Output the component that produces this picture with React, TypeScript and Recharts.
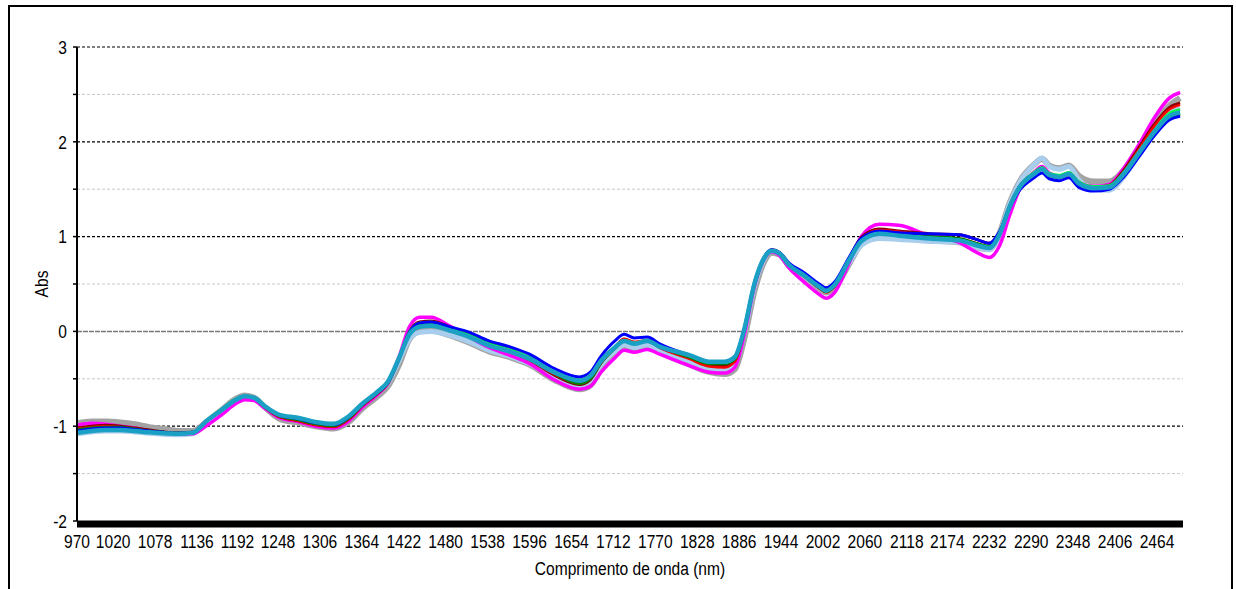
import React from 'react';
import { LineChart, Line, XAxis, YAxis, ReferenceLine } from 'recharts';

const wavelengths = [970, 990, 1010, 1030, 1050, 1070, 1090, 1110, 1130, 1150, 1170, 1190, 1202, 1215, 1230, 1250, 1275, 1300, 1325, 1345, 1365, 1385, 1400, 1415, 1430, 1444, 1460, 1485, 1513, 1540, 1568, 1596, 1630, 1665, 1680, 1695, 1714, 1727, 1741, 1759, 1776, 1817, 1845, 1866, 1880, 1893, 1907, 1921, 1931, 1942, 1955, 1976, 1997, 2006, 2018, 2038, 2055, 2080, 2107, 2149, 2190, 2218, 2232, 2246, 2260, 2274, 2294, 2305, 2315, 2329, 2342, 2356, 2377, 2398, 2418, 2439, 2460, 2481, 2496];

const sGray = [-0.97, -0.95, -0.95, -0.96, -0.98, -1.01, -1.03, -1.05, -1.05, -0.95, -0.83, -0.71, -0.675, -0.70, -0.80, -0.92, -0.96, -1.00, -1.025, -0.96, -0.81, -0.69, -0.58, -0.36, -0.08, 0.00, 0.01, -0.04, -0.12, -0.21, -0.27, -0.35, -0.51, -0.61, -0.57, -0.40, -0.24, -0.17, -0.20, -0.16, -0.22, -0.35, -0.43, -0.45, -0.40, -0.08, 0.42, 0.74, 0.83, 0.81, 0.69, 0.57, 0.45, 0.41, 0.46, 0.71, 0.92, 1.01, 0.99, 0.96, 0.94, 0.88, 0.87, 1.03, 1.35, 1.58, 1.76, 1.82, 1.75, 1.72, 1.75, 1.64, 1.58, 1.58, 1.70, 1.93, 2.18, 2.38, 2.46];
const sLightBlue = [-1.08, -1.06, -1.05, -1.05, -1.06, -1.075, -1.085, -1.09, -1.08, -0.95, -0.84, -0.73, -0.69, -0.71, -0.80, -0.90, -0.93, -0.975, -0.995, -0.92, -0.78, -0.66, -0.55, -0.32, -0.08, -0.01, 0.00, -0.04, -0.11, -0.20, -0.26, -0.34, -0.48, -0.57, -0.52, -0.35, -0.21, -0.14, -0.17, -0.14, -0.20, -0.32, -0.40, -0.40, -0.34, -0.02, 0.47, 0.77, 0.85, 0.82, 0.70, 0.58, 0.46, 0.42, 0.48, 0.72, 0.91, 0.98, 0.97, 0.95, 0.94, 0.88, 0.86, 1.02, 1.34, 1.57, 1.76, 1.83, 1.74, 1.71, 1.74, 1.60, 1.50, 1.49, 1.63, 1.87, 2.12, 2.30, 2.35];
const sMagenta = [-0.99, -0.97, -0.98, -1.00, -1.02, -1.05, -1.07, -1.08, -1.08, -0.99, -0.88, -0.76, -0.72, -0.73, -0.81, -0.91, -0.95, -1.00, -1.02, -0.95, -0.80, -0.67, -0.55, -0.28, 0.05, 0.15, 0.15, 0.06, -0.06, -0.17, -0.25, -0.34, -0.51, -0.61, -0.58, -0.43, -0.28, -0.20, -0.22, -0.19, -0.24, -0.36, -0.43, -0.44, -0.38, -0.04, 0.47, 0.77, 0.84, 0.80, 0.67, 0.52, 0.39, 0.35, 0.41, 0.72, 1.00, 1.13, 1.12, 1.01, 0.94, 0.82, 0.78, 0.90, 1.22, 1.50, 1.68, 1.74, 1.67, 1.64, 1.67, 1.57, 1.53, 1.55, 1.72, 1.97, 2.25, 2.46, 2.52];
const sDarkRed = [-1.02, -1.00, -0.99, -1.00, -1.02, -1.04, -1.06, -1.07, -1.065, -0.94, -0.83, -0.72, -0.685, -0.70, -0.80, -0.90, -0.94, -0.985, -1.005, -0.93, -0.78, -0.66, -0.55, -0.30, 0.00, 0.10, 0.11, 0.05, -0.04, -0.14, -0.21, -0.30, -0.46, -0.56, -0.51, -0.33, -0.17, -0.08, -0.12, -0.10, -0.17, -0.28, -0.36, -0.37, -0.31, 0.01, 0.49, 0.78, 0.86, 0.83, 0.71, 0.60, 0.48, 0.44, 0.50, 0.77, 0.99, 1.08, 1.06, 1.03, 1.02, 0.96, 0.93, 1.04, 1.32, 1.53, 1.67, 1.72, 1.66, 1.63, 1.66, 1.57, 1.52, 1.54, 1.70, 1.94, 2.18, 2.36, 2.41];
const sRed = [-1.03, -1.01, -1.00, -1.01, -1.03, -1.05, -1.065, -1.075, -1.065, -0.94, -0.83, -0.72, -0.685, -0.70, -0.80, -0.90, -0.94, -0.985, -1.005, -0.93, -0.78, -0.66, -0.55, -0.30, 0.00, 0.09, 0.10, 0.04, -0.05, -0.15, -0.21, -0.30, -0.45, -0.55, -0.50, -0.33, -0.17, -0.08, -0.11, -0.09, -0.17, -0.29, -0.37, -0.38, -0.32, 0.00, 0.48, 0.78, 0.85, 0.82, 0.70, 0.58, 0.45, 0.41, 0.47, 0.75, 0.97, 1.07, 1.05, 1.00, 0.98, 0.92, 0.89, 1.02, 1.31, 1.52, 1.66, 1.71, 1.64, 1.62, 1.65, 1.55, 1.50, 1.52, 1.68, 1.92, 2.16, 2.34, 2.39];
const sBlue = [-1.05, -1.03, -1.02, -1.02, -1.035, -1.05, -1.065, -1.075, -1.065, -0.94, -0.83, -0.72, -0.685, -0.70, -0.79, -0.885, -0.92, -0.965, -0.985, -0.91, -0.77, -0.65, -0.54, -0.30, -0.01, 0.09, 0.10, 0.05, -0.01, -0.10, -0.16, -0.24, -0.39, -0.48, -0.43, -0.26, -0.10, -0.03, -0.07, -0.06, -0.13, -0.25, -0.32, -0.32, -0.27, 0.03, 0.51, 0.79, 0.86, 0.83, 0.72, 0.62, 0.50, 0.46, 0.52, 0.78, 0.98, 1.06, 1.04, 1.03, 1.02, 0.96, 0.93, 1.05, 1.30, 1.49, 1.62, 1.67, 1.61, 1.59, 1.62, 1.52, 1.48, 1.50, 1.63, 1.84, 2.06, 2.23, 2.27];
const sGreen = [-1.04, -1.02, -1.01, -1.01, -1.03, -1.05, -1.065, -1.075, -1.065, -0.94, -0.83, -0.72, -0.685, -0.70, -0.79, -0.89, -0.93, -0.975, -0.995, -0.92, -0.77, -0.65, -0.54, -0.30, -0.01, 0.08, 0.09, 0.03, -0.04, -0.13, -0.19, -0.28, -0.44, -0.55, -0.50, -0.33, -0.18, -0.10, -0.13, -0.10, -0.16, -0.27, -0.34, -0.34, -0.29, 0.01, 0.49, 0.78, 0.85, 0.82, 0.70, 0.58, 0.46, 0.42, 0.48, 0.76, 0.97, 1.05, 1.03, 1.00, 0.98, 0.92, 0.90, 1.03, 1.32, 1.53, 1.67, 1.72, 1.66, 1.64, 1.67, 1.57, 1.52, 1.53, 1.66, 1.87, 2.08, 2.25, 2.29];
const sLime = [-1.06, -1.04, -1.03, -1.03, -1.04, -1.055, -1.07, -1.075, -1.065, -0.93, -0.82, -0.71, -0.68, -0.70, -0.79, -0.88, -0.91, -0.955, -0.975, -0.90, -0.76, -0.64, -0.53, -0.29, 0.00, 0.09, 0.10, 0.04, -0.04, -0.13, -0.19, -0.27, -0.42, -0.51, -0.46, -0.30, -0.16, -0.09, -0.12, -0.09, -0.15, -0.26, -0.33, -0.33, -0.28, 0.02, 0.50, 0.78, 0.85, 0.82, 0.70, 0.59, 0.47, 0.43, 0.49, 0.75, 0.96, 1.04, 1.02, 0.99, 0.97, 0.91, 0.89, 1.03, 1.32, 1.53, 1.68, 1.73, 1.67, 1.65, 1.68, 1.58, 1.53, 1.54, 1.68, 1.90, 2.12, 2.30, 2.34];
const sTeal = [-1.07, -1.05, -1.04, -1.04, -1.05, -1.065, -1.075, -1.08, -1.07, -0.94, -0.83, -0.72, -0.685, -0.70, -0.79, -0.88, -0.91, -0.955, -0.975, -0.90, -0.76, -0.64, -0.53, -0.29, -0.03, 0.05, 0.06, 0.01, -0.06, -0.15, -0.21, -0.29, -0.43, -0.52, -0.47, -0.31, -0.17, -0.10, -0.13, -0.10, -0.16, -0.25, -0.32, -0.32, -0.27, 0.02, 0.50, 0.78, 0.85, 0.82, 0.70, 0.59, 0.47, 0.43, 0.49, 0.75, 0.95, 1.03, 1.01, 0.98, 0.96, 0.90, 0.88, 1.02, 1.31, 1.52, 1.66, 1.71, 1.65, 1.63, 1.66, 1.56, 1.51, 1.52, 1.66, 1.88, 2.10, 2.27, 2.31];

const xTickLabels = [970, 1020, 1078, 1136, 1192, 1248, 1306, 1364, 1422, 1480, 1538, 1596, 1654, 1712, 1770, 1828, 1886, 1944, 2002, 2060, 2118, 2174, 2232, 2290, 2348, 2406, 2464];
const yTickValues = [-2, -1.5, -1, -0.5, 0, 0.5, 1, 1.5, 2, 2.5, 3];
const majorGrid = [-1, 1, 2, 3];
const minorGrid = [-1.5, -0.5, 0.5, 1.5, 2.5];
const zeroGrid = [0];
const xTitle = 'Comprimento de onda (nm)';
const yTitle = 'Abs';

const series = [
  { key: 'gray', values: sGray, color: '#a3a3a3', width: 6 },
  { key: 'lightblue', values: sLightBlue, color: '#a9cdec', width: 5 },
  { key: 'magenta', values: sMagenta, color: '#ff00ff', width: 3.5 },
  { key: 'darkred', values: sDarkRed, color: '#8b0000', width: 3 },
  { key: 'red', values: sRed, color: '#ff0000', width: 2.5 },
  { key: 'green', values: sGreen, color: '#008000', width: 3 },
  { key: 'lime', values: sLime, color: '#00ff40', width: 2.5 },
  { key: 'blue', values: sBlue, color: '#0000ff', width: 3 },
  { key: 'teal', values: sTeal, color: '#1aa0c4', width: 4.5 },
];

const data = wavelengths.map((wl, i) => {
  const row: Record<string, number> = { wl };
  series.forEach((s) => { row[s.key] = s.values[i]; });
  return row;
});

const FONT = "'Liberation Sans', Arial, sans-serif";
const FS = 19;
const SX = 0.82;

const XTick = (props: any) => {
  const { x, y, payload } = props;
  return (
    <g transform={`translate(${x},${y})`}>
      <text x={0} y={0} dy="0.71em" textAnchor="middle" fill="#000" fontSize={FS} fontFamily={FONT} transform={`scale(${SX},1)`}>
        {payload.value}
      </text>
    </g>
  );
};

const YTick = (props: any) => {
  const { x, y, payload } = props;
  const v = payload.value;
  if (!Number.isInteger(v)) return <g />;
  return (
    <g transform={`translate(${x},${y})`}>
      <text x={0} y={0} dy="0.355em" textAnchor="end" fill="#000" fontSize={FS} fontFamily={FONT} transform={`scale(${SX},1)`}>
        {String(v)}
      </text>
    </g>
  );
};

const XTitle = (props: any) => {
  const vb = props.viewBox || {};
  const cx = vb.x + vb.width / 2;
  const by = vb.y + vb.height - 6;
  return (
    <g transform={`translate(${cx},${by})`}>
      <text x={0} y={0} textAnchor="middle" fill="#000" fontSize={FS} fontFamily={FONT} transform={`scale(${SX},1)`}>
        {xTitle}
      </text>
    </g>
  );
};

const YTitle = (props: any) => {
  const vb = props.viewBox || {};
  const cx = vb.x + vb.width / 2;
  const cy = vb.y + vb.height / 2;
  return (
    <g transform={`translate(${cx},${cy}) rotate(-90)`}>
      <text x={0} y={0} dy="0.355em" textAnchor="middle" fill="#000" fontSize={FS} fontFamily={FONT} transform={`scale(${SX},1)`}>
        {yTitle}
      </text>
    </g>
  );
};

export default function App() {
  return (
    <div style={{ position: 'absolute', left: 0, top: 0, width: 1236, height: 589, overflow: 'hidden', background: '#fff' }}>
      <div style={{ position: 'absolute', left: 8, top: 5, width: 1225, height: 640, border: '2px solid #000', boxSizing: 'border-box' }} />
      <div style={{ position: 'absolute', left: 0, top: 0 }}>
        <LineChart width={1236} height={589} data={data} margin={{ top: 47, right: 53, bottom: 8, left: 5 }}>
          <XAxis
            dataKey="wl"
            type="number"
            domain={[970, 2500]}
            ticks={xTickLabels}
            interval={0}
            allowDataOverflow
            tickLine={false}
            tickSize={0}
            tickMargin={14}
            height={60}
            axisLine={{ stroke: '#000', strokeWidth: 7, transform: 'translate(0,3)' }}
            tick={<XTick />}
            label={<XTitle />}
          />
          <YAxis
            type="number"
            domain={[-2, 3]}
            ticks={yTickValues}
            interval={0}
            width={72}
            tickSize={4}
            tickMargin={6}
            axisLine={{ stroke: '#000', strokeWidth: 2 }}
            tickLine={{ stroke: '#000', strokeWidth: 1.5 }}
            tick={<YTick />}
            label={<YTitle />}
          />
          {minorGrid.map((v) => (
            <ReferenceLine key={'mi' + v} y={v} stroke="#c8c8c8" strokeDasharray="3 2" strokeWidth={1} />
          ))}
          {zeroGrid.map((v) => (
            <ReferenceLine key={'z' + v} y={v} stroke="#7a7a7a" strokeDasharray="5 1" strokeWidth={1.5} />
          ))}
          {majorGrid.map((v) => (
            <ReferenceLine key={'ma' + v} y={v} stroke="#000" strokeDasharray="3 2" strokeWidth={1.2} />
          ))}
          {series.map((s) => (
            <Line
              key={s.key}
              dataKey={s.key}
              type="monotone"
              stroke={s.color}
              strokeWidth={s.width}
              dot={false}
              activeDot={false}
              isAnimationActive={false}
              strokeLinejoin="round"
            />
          ))}
        </LineChart>
      </div>
    </div>
  );
}
